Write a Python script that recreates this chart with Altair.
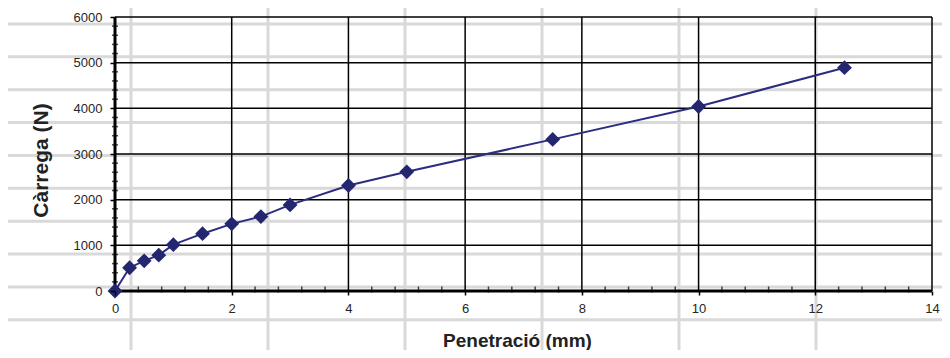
import altair as alt
import pandas as pd

# ---- data ----
penetracio = [0, 0.25, 0.5, 0.75, 1, 1.5, 2, 2.5, 3, 4, 5, 7.5, 10, 12.5]
carrega = [0, 510, 660, 785, 1015, 1255, 1470, 1630, 1885, 2310, 2610, 3320, 4040, 4890]

x_ticks = [0, 2, 4, 6, 8, 10, 12, 14]
y_ticks = [0, 1000, 2000, 3000, 4000, 5000, 6000]
x_minor = [round(i * 0.4, 1) for i in range(1, 35) if round(i * 0.4, 1) % 2 != 0]
y_minor = [v for v in range(200, 6000, 200) if v % 1000 != 0]

df = pd.DataFrame({"x": penetracio, "y": carrega})

W, H = 817, 274
FONT = "Liberation Sans"
NAVY_LINE = "#2b2d80"
NAVY_MARK = "#24266f"
SHEET = "#d9d9d9"
LABEL = "#262626"

# spreadsheet cell lines behind the chart (decoration, pixel offsets from plot origin)
sheet_cols = [16, 153, 290, 427, 564, 701]
sheet_rows = [7 + 32.87 * k for k in range(10)]

one = alt.Data(values=[{}])
deco = []
for px in sheet_cols:
    deco.append(
        alt.Chart(one).mark_rule(color=SHEET, strokeWidth=3).encode(
            x=alt.value(px), y=alt.value(-9), y2=alt.value(H + 60)
        )
    )
for py in sheet_rows:
    deco.append(
        alt.Chart(one).mark_rule(color=SHEET, strokeWidth=3).encode(
            y=alt.value(py), x=alt.value(-107), x2=alt.value(W + 10)
        )
    )

xscale = alt.Scale(domain=[0, 14], nice=False, zero=False)
yscale = alt.Scale(domain=[0, 6000], nice=False, zero=False)

xaxis = alt.Axis(
    values=x_ticks, grid=False, domain=False, zindex=1,
    tickColor="black", tickSize=4, tickWidth=1.5,
    labelFont=FONT, labelFontSize=13, labelColor=LABEL, labelPadding=7,
    labelFlush=False, format="d",
    title="Penetració (mm)", titleFont=FONT, titleFontSize=19, titleFontWeight="bold",
    titleColor="#222222", titleX=402, titleY=55, titleBaseline="alphabetic",
    titleAlign="center",
)
yaxis = alt.Axis(
    values=y_ticks, grid=False, domain=False, zindex=1,
    tickColor="black", tickSize=5, tickWidth=1.5,
    labelFont=FONT, labelFontSize=13, labelColor=LABEL, labelPadding=8,
    labelFlush=False, format="d",
    title="Càrrega (N)", titleFont=FONT, titleFontSize=21, titleFontWeight="bold",
    titleColor="#222222", titleX=-68, titleY=143, titleBaseline="alphabetic",
    titleAlign="center", titleAngle=270,
)

X = alt.X("x:Q", scale=xscale, axis=xaxis)
Y = alt.Y("y:Q", scale=yscale, axis=yaxis)

# black chart gridlines at the major tick values
xgrid = alt.Chart(pd.DataFrame({"x": x_ticks})).mark_rule(color="black", strokeWidth=1.5).encode(x=X)
ygrid = alt.Chart(pd.DataFrame({"y": y_ticks})).mark_rule(color="black", strokeWidth=1.5).encode(y=Y)

# thick axis lines
xdomain = alt.Chart(pd.DataFrame({"y": [0]})).mark_rule(color="black", strokeWidth=3).encode(y=Y)
ydomain = alt.Chart(pd.DataFrame({"x": [0]})).mark_rule(color="black", strokeWidth=3).encode(x=X)

xminor = alt.Chart(pd.DataFrame({"x": x_minor, "y": [0] * len(x_minor)})).mark_tick(
    orient="vertical", color="black", thickness=1.5, size=6, yOffset=-1.5
).encode(x=X, y=Y)

yminor = alt.Chart(pd.DataFrame({"y": y_minor, "x": [0] * len(y_minor)})).mark_tick(
    orient="horizontal", color="black", thickness=1.5, size=6
).encode(y=Y, x=X)

base = alt.Chart(df)
line = base.mark_line(color=NAVY_LINE, strokeWidth=2).encode(x=X, y=Y)
points = base.mark_point(shape="diamond", filled=True, size=220, color=NAVY_MARK, opacity=1).encode(x=X, y=Y)

chart = alt.layer(*deco, xgrid, ygrid, xdomain, ydomain, xminor, yminor, line, points).properties(
    width=W, height=H,
    padding={"left": 107, "top": 9, "right": 10, "bottom": 59},
    autosize=alt.AutoSizeParams(type="none"),
    background="white",
).configure_view(stroke=None).configure_axis(
    labelFont=FONT, labelFontSize=13, labelColor=LABEL
)

chart.save("out.html", embed_options={"renderer": "svg", "actions": False})
